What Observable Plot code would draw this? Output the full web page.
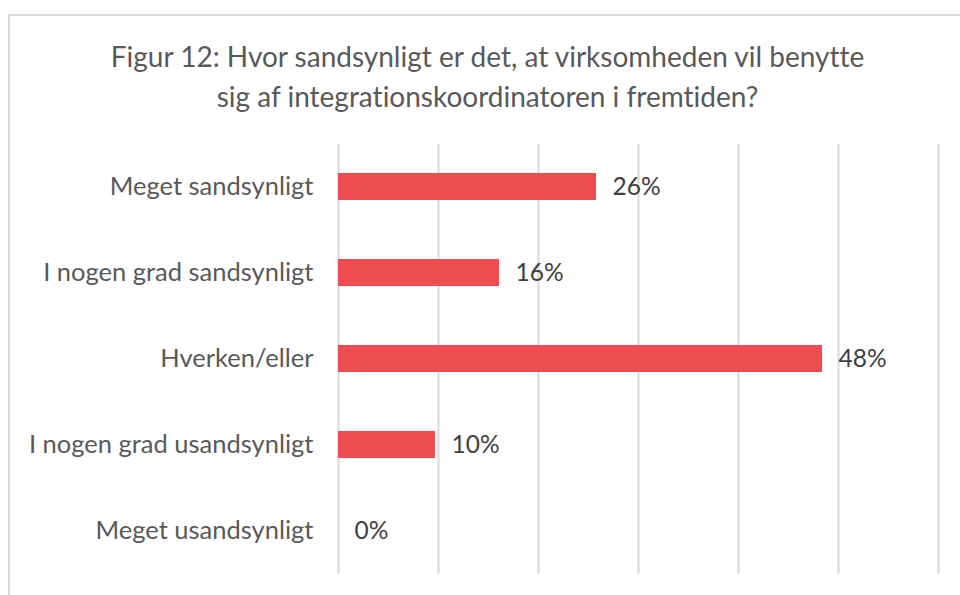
<!DOCTYPE html>
<html>
<head>
<meta charset="utf-8">
<script src="https://cdn.jsdelivr.net/npm/d3@7"></script>
<script src="https://cdn.jsdelivr.net/npm/@observablehq/plot@0.6"></script>
<style>
  html, body { margin: 0; padding: 0; width: 960px; height: 595px; overflow: hidden; background: #fff; }
  #frame { position: absolute; left: 8px; top: 14px; width: 2000px; height: 2000px;
           border-left: 2px solid #d9d9d9; border-top: 2px solid #d9d9d9; box-sizing: border-box; }
  #title { position: absolute; left: 0; top: 36px; width: 975px; text-align: center;
           font-family: Lato, sans-serif; font-size: 28px; line-height: 40px; color: #595959;
           font-variant-ligatures: none; }
  #chart { position: absolute; left: 0; top: 0; }
  #chart svg text { font-variant-ligatures: none; }
</style>
</head>
<body>
<div id="frame"></div>
<div id="title">Figur 12: Hvor sandsynligt er det, at virksomheden vil benytte<br>sig af integrationskoordinatoren i fremtiden?</div>
<div id="chart"></div>
<script>
const categories = ["Meget sandsynligt", "I nogen grad sandsynligt", "Hverken/eller", "I nogen grad usandsynligt", "Meget usandsynligt"];
const values = [25.8, 16.1, 48.4, 9.7, 0];
const labels = ["26%", "16%", "48%", "10%", "0%"];
const xTicks = [0, 10, 20, 30, 40, 50, 60];

const data = categories.map((c, i) => ({category: c, value: values[i], label: labels[i]}));

const chart = Plot.plot({
  width: 960,
  height: 595,
  marginLeft: 338,
  marginRight: 22,
  marginTop: 144,
  marginBottom: 21,
  style: {fontFamily: "Lato, sans-serif", background: "transparent"},
  x: {domain: [0, 60], axis: null},
  y: {domain: categories, paddingInner: 0.686, paddingOuter: 0.343, label: null},
  marks: [
    Plot.ruleX(xTicks, {stroke: "#d9d9d9", strokeWidth: 2}),
    Plot.barX(data, {y: "category", x: "value", fill: "#ED4D50"}),
    Plot.text(data, {y: "category", x: "value", text: "label", dx: 16, textAnchor: "start", fontSize: 24.5, fill: "#404040"}),
    Plot.axisY({tickSize: 0, tickPadding: 25, fontSize: 25.5, color: "#595959", label: null})
  ]
});
document.getElementById("chart").appendChild(chart);
</script>
</body>
</html>
